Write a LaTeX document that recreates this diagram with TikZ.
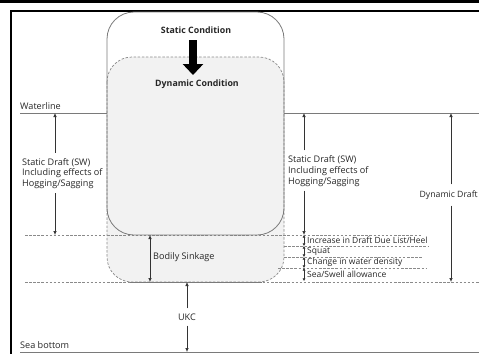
\documentclass[tikz,border=0pt]{standalone}
\usepackage{fontspec}
\setmainfont{Open Sans}
\usetikzlibrary{arrows.meta}
\definecolor{lgray}{HTML}{F2F2F2}
\definecolor{lline}{HTML}{7A7A7A}
\definecolor{dline}{HTML}{8A8A8A}
\definecolor{darr}{HTML}{333333}
\begin{document}
\begin{tikzpicture}[x=1pt,y=-1pt,
  lbl/.style={font=\fontsize{9.1}{10.8}\selectfont, inner sep=0pt, text=black!85, align=left},
  slbl/.style={font=\fontsize{8.5}{10}\selectfont, inner sep=0pt, text=black!85, anchor=west},
  ttl/.style={font=\fontsize{8.8}{10}\selectfont\bfseries, inner sep=0pt, text=black!85},
  gline/.style={draw=lline, line width=0.8pt},
  dashline/.style={draw=dline, line width=0.7pt, dash pattern=on 2.5pt off 1.6pt},
  arr/.style={draw=darr, line width=0.7pt, -{Latex[length=4pt,width=3.6pt]}},
  arrb/.style={draw=darr, line width=0.7pt, {Latex[length=4pt,width=3.6pt]}-{Latex[length=4pt,width=3.6pt]}},
  arrs/.style={draw=darr, line width=0.6pt, {Latex[length=2.6pt,width=3.2pt]}-{Latex[length=2.6pt,width=3.2pt]}},
  bigarr/.style={draw=black, line width=7.5pt, -{Triangle[width=20pt,length=11pt]}}
]
\useasboundingbox (0,0) rectangle (479,354);
\clip (0,0) rectangle (479,354);
% frame
\fill[black] (0,0) rectangle (479,3);
\draw[black, line width=1.8pt] (11,11) -- (479,11);
\draw[black, line width=1.8pt] (11,10.1) -- (11,354);

% dynamic condition box fill
\fill[lgray, rounded corners=25pt] (107,57) rectangle (284,282);

% horizontal dashed levels
\draw[dashline] (25,235) -- (422,235);
\draw[dashline] (25,282) -- (479,282);
\draw[dashline] (284,246) -- (428,246);
\draw[dashline] (284,257) -- (423,257);
\draw[dashline] (278,268) -- (427,268);

% boxes
\draw[dashline, rounded corners=25pt] (107,57) rectangle (284,282);
\draw[gline, rounded corners=27pt] (107,12) rectangle (284,235);
\draw[gline] (130,282) -- (262,282);

% waterline and sea bottom
\draw[gline] (20,113) -- (107,113);
\draw[gline] (284,113) -- (479,113);
\draw[gline] (20,352) -- (479,352);

% texts
\node[ttl] (sc) at (196,30) {Static Condition};
\node[ttl] (dc) at (197,84) {Dynamic Condition};
\node[lbl, anchor=base west] (wl) at (20,109) {Waterline};
\node[lbl, anchor=base west] (sb) at (20,348) {Sea bottom};
\node[lbl, anchor=west] (lsd) at (22,173.5) {Static Draft (SW)\\Including effects of\\Hogging/Sagging};
\node[lbl, anchor=west] (rsd) at (288,171) {Static Draft (SW)\\Including effects of\\Hogging/Sagging};
\node[lbl, anchor=east, font=\fontsize{8.7}{10}\selectfont] (dd) at (478,195) {Dynamic Draft};
\node[lbl, anchor=west] (bs) at (153,257) {Bodily Sinkage};
\node[lbl] (ukc) at (187,317) {UKC};
\node[slbl] (s1) at (307,240.5) {Increase in Draft Due List/Heel};
\node[slbl] (s2) at (307,251.5) {Squat};
\node[slbl] (s3) at (307,262.5) {Change in water density};
\node[slbl] (s4) at (307,274.5) {Sea/Swell allowance};

% coordinates
\coordinate (ba) at (193,40);
\coordinate (bb) at (193,75);
\coordinate (l1) at (55,113);
\coordinate (l2) at (55,235);
\coordinate (r1) at (304,113);
\coordinate (r2) at (304,235);
\coordinate (r3) at (304,246);
\coordinate (r4) at (304,257);
\coordinate (r5) at (304,268);
\coordinate (r6) at (304,281);
\coordinate (d1) at (451,113);
\coordinate (d2) at (451,282);
\coordinate (b1) at (150,235);
\coordinate (b2) at (150,282);
\coordinate (u1) at (187,282);
\coordinate (u2) at (187,352);

% big arrow
\draw[bigarr] (ba) -- (bb);

% dimension arrows
\draw[arr, shorten <=5pt] (lsd.north -| l1) -- (l1);
\draw[arr, shorten <=4pt] (lsd.south -| l2) -- (l2);
\draw[arr, shorten <=5pt] (rsd.north -| r1) -- (r1);
\draw[arr, shorten <=4pt] (rsd.south -| r2) -- (r2);
\draw[arr, shorten <=6pt] (dd.north -| d1) -- (d1);
\draw[arr, shorten <=6pt] (dd.south -| d2) -- (d2);
\draw[arrb] (b1) -- (b2);
\draw[arr, shorten <=5pt] (ukc.north) -- (u1);
\draw[arr, shorten <=5pt] (ukc.south) -- (u2);
\draw[arrs] (r2) -- (r3);
\draw[arrs] (r3) -- (r4);
\draw[arrs] (r4) -- (r5);
\draw[arrs] (r5) -- (r6);
\end{tikzpicture}
\end{document}
